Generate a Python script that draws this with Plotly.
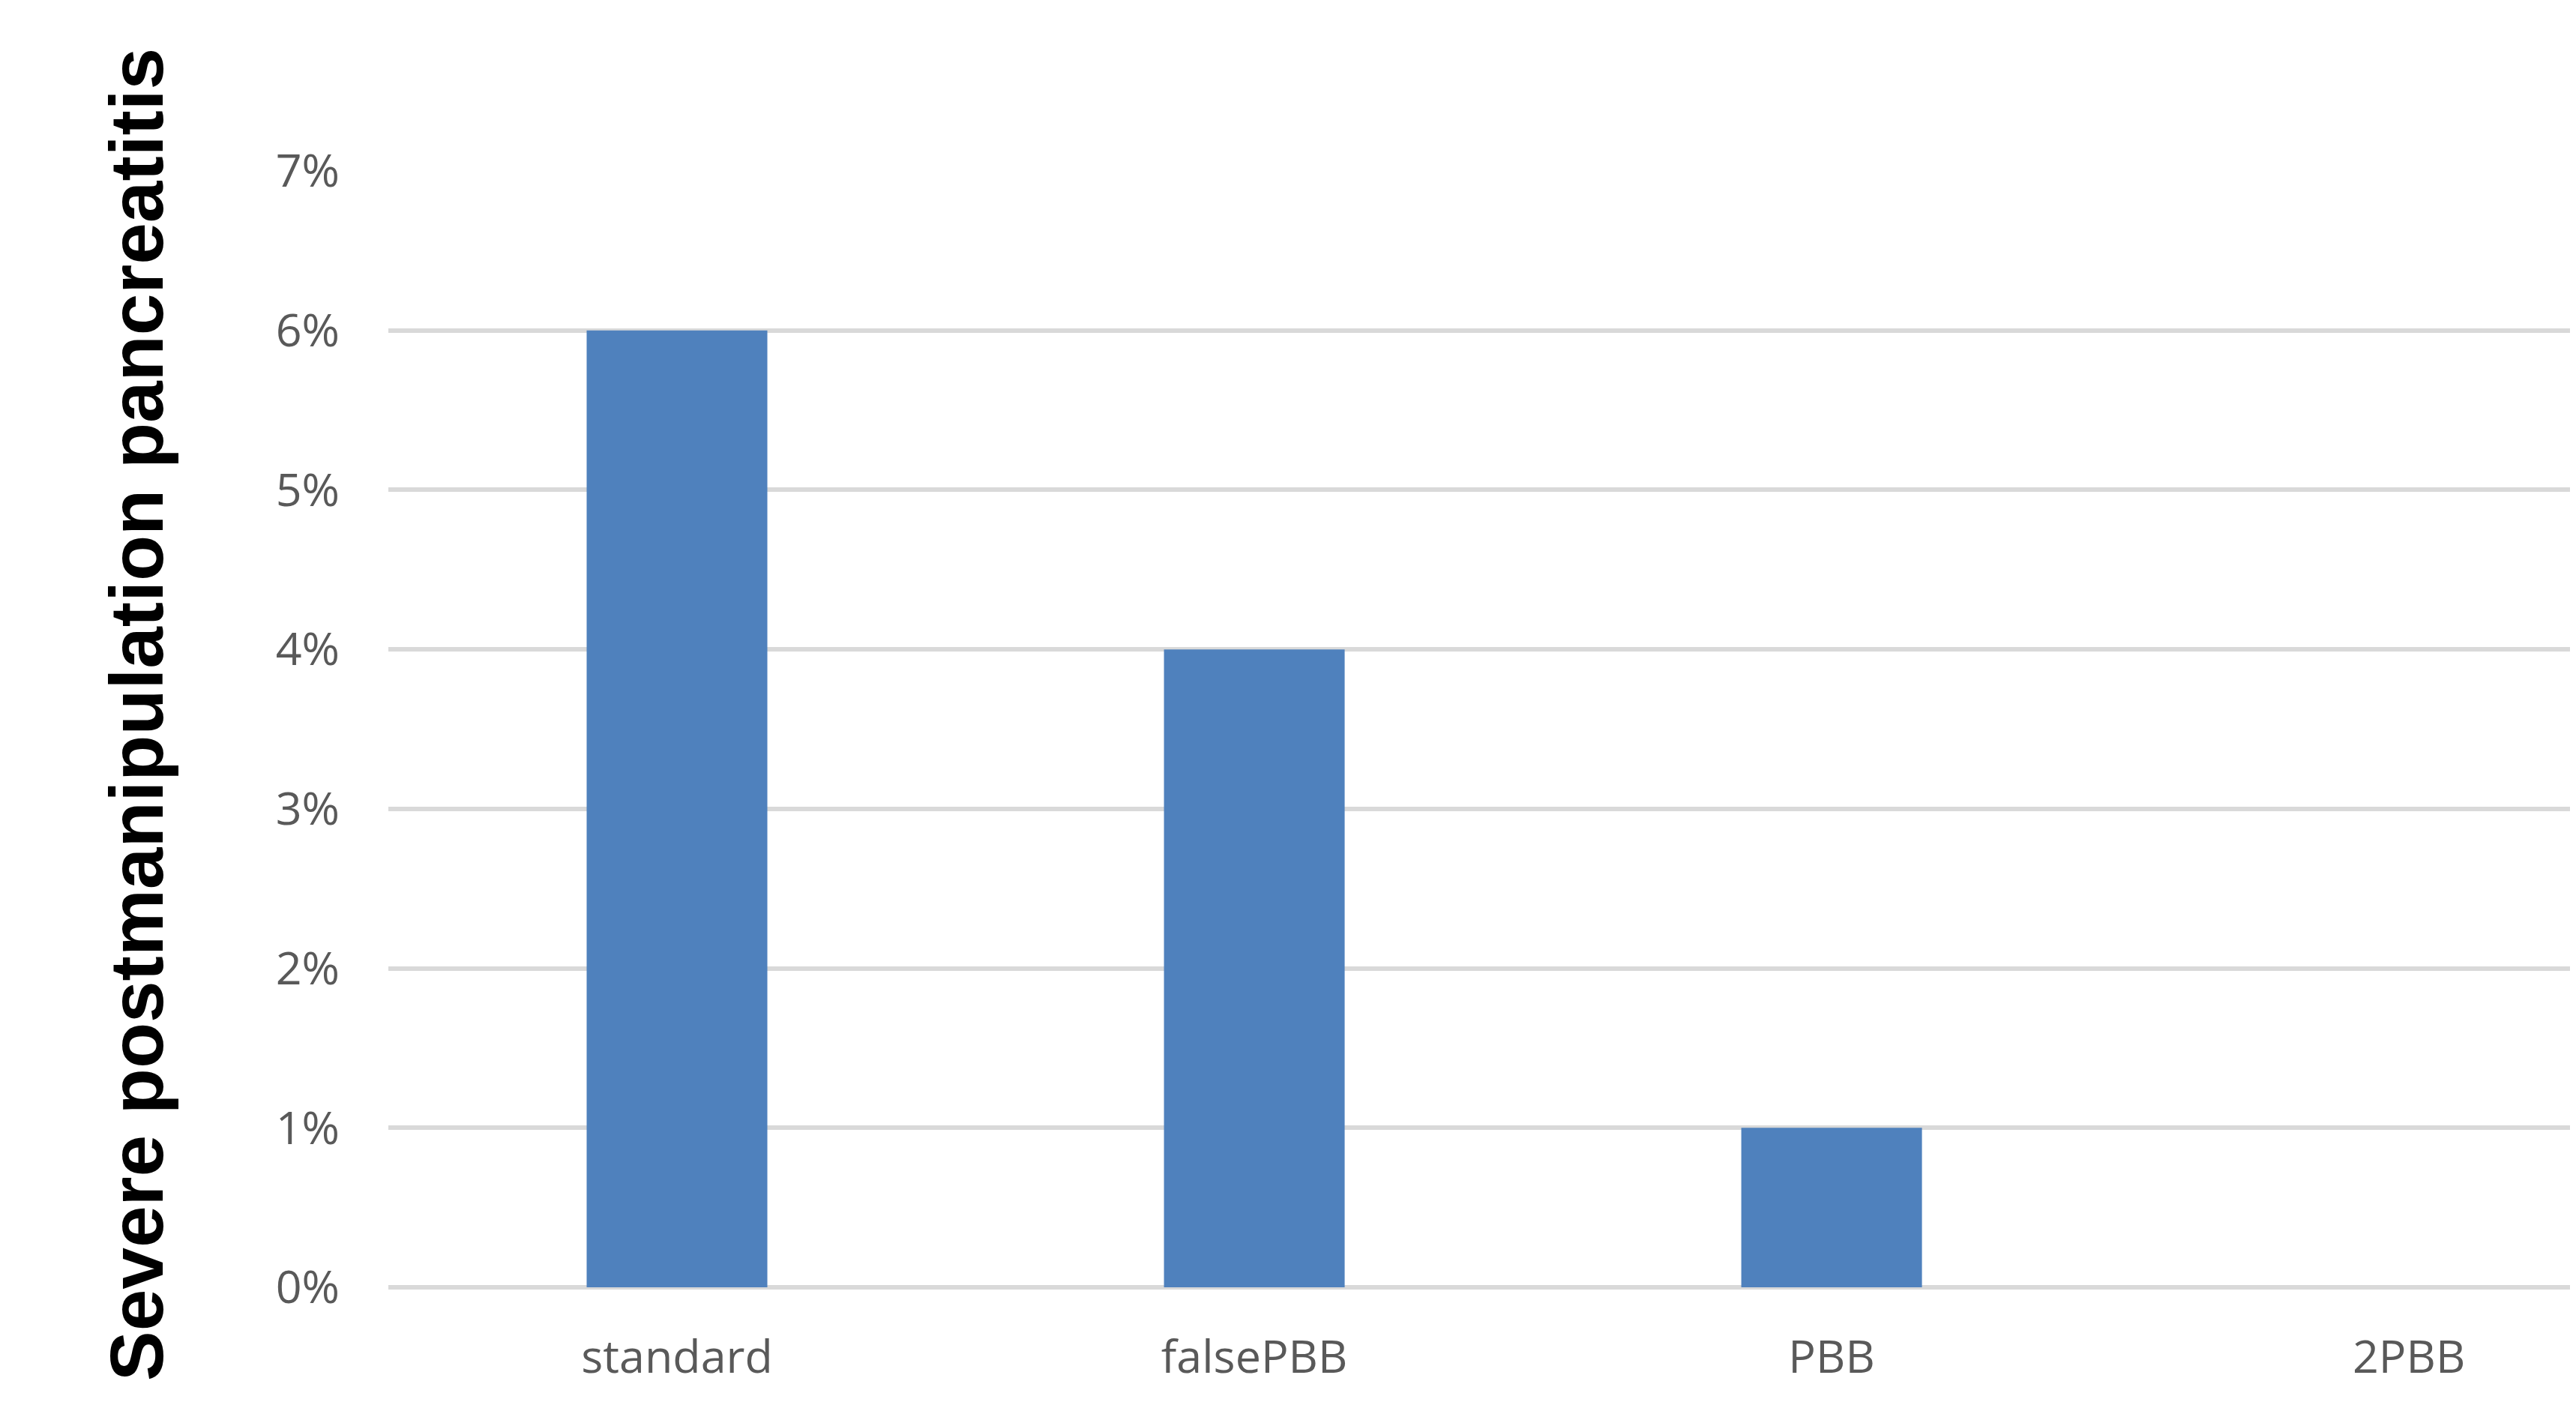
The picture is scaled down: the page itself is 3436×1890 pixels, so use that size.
import plotly.graph_objects as go

# Data
categories = ['standard', 'falsePBB', 'PBB', '2PBB']
pancreatitis_rate = [0.06, 0.04, 0.01, 0.0]
y_ticks = [0, 0.01, 0.02, 0.03, 0.04, 0.05, 0.06, 0.07]
y_tick_labels = ['0%', '1%', '2%', '3%', '4%', '5%', '6%', '7%']

grey_text = '#595959'
grid_col = '#d9d9d9'

fig = go.Figure()
fig.add_trace(go.Bar(x=categories, y=pancreatitis_rate, width=0.313,
                     marker=dict(color='#4f81bd', line=dict(width=0))))

# page body adds an 8px margin all round, so keep the figure inside the window
fig.update_layout(
    width=3420, height=1874,
    margin=dict(l=510, r=0, t=220, b=165),
    plot_bgcolor='white', paper_bgcolor='white',
    showlegend=False,
    font=dict(family='Open Sans', color=grey_text, size=60),
)
fig.update_xaxes(range=[-0.5, 3.279], showgrid=False, showline=False, ticks='',
                 ticklabelstandoff=52, tickfont=dict(size=61, color=grey_text))
fig.update_yaxes(range=[0, 0.07], tickvals=y_ticks, ticktext=y_tick_labels,
                 showgrid=True, gridcolor=grid_col, gridwidth=6,
                 zeroline=True, zerolinecolor=grid_col, zerolinewidth=6,
                 showline=False, ticks='', ticklabelstandoff=64,
                 tickfont=dict(size=61, color=grey_text))

# Axis title placed as a rotated annotation to sit where the original one is
fig.add_annotation(text='<b>Severe postmanipulation pancreatitis</b>',
                   xref='paper', yref='paper', x=-0.1155, y=0.513,
                   xanchor='center', yanchor='middle',
                   textangle=-90, showarrow=False,
                   font=dict(family='Liberation Sans', size=100, color='black'))

fig.write_html("out.html")
